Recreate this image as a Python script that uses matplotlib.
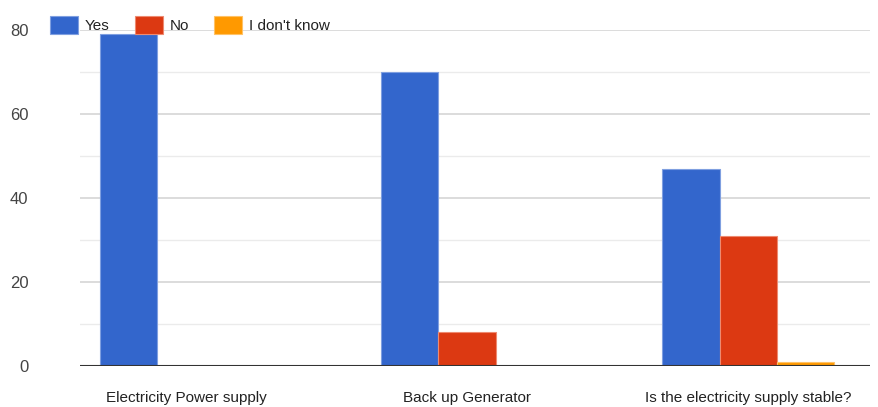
import numpy as np
import matplotlib.pyplot as plt
from matplotlib.ticker import MultipleLocator

categories = ["Electricity Power supply", "Back up Generator", "Is the electricity supply stable?"]
yes = [79, 70, 47]
no = [0, 8, 31]
dont_know = [0, 0, 1]
series_names = ["Yes", "No", "I don't know"]
colors = ["#3366cc", "#dc3912", "#ff9900"]
edges = ["#7f9fe0", "#ee8a70", "#ffc266"]

plt.rcParams['font.family'] = ['Liberation Sans', 'DejaVu Sans']

fig = plt.figure(figsize=(8.79, 4.07), dpi=100)
W, H = 879, 407
ax = fig.add_axes([80 / W, 41 / H, 790 / W, 336 / H])

x = np.arange(len(categories))
w = 0.203
for i, (vals, name) in enumerate(zip([yes, no, dont_know], series_names)):
    ax.bar(x + (i - 1) * w, vals, width=w, color=colors[i], edgecolor=edges[i],
           linewidth=0.8, label=name, zorder=3)

ax.set_xlim(-0.377, 2.434)
ax.set_ylim(0, 80)
ax.yaxis.set_major_locator(MultipleLocator(20))
ax.yaxis.set_minor_locator(MultipleLocator(10))
ax.grid(axis='y', which='major', color='#d6d6d6', linewidth=1.2, zorder=0)
ax.grid(axis='y', which='minor', color='#ebebeb', linewidth=1.0, zorder=0)
ax.axhline(0, color='#333333', linewidth=1.5, zorder=4)

for s in ax.spines.values():
    s.set_visible(False)
ax.tick_params(axis='both', which='both', length=0)
ax.tick_params(axis='y', pad=37, labelsize=12, labelcolor='#444444')
ax.tick_params(axis='x', pad=18, labelsize=11, labelcolor='#222222')
ax.set_xticks(x)
ax.set_xticklabels(categories)

fig.legend(loc='upper left', bbox_to_anchor=(44 / W, 1 - 10 / H), ncol=3, frameon=False,
           fontsize=11, handlelength=1.83, handleheight=1.4, handletextpad=0.46,
           columnspacing=1.63, borderaxespad=0, labelcolor='#222222')

fig.savefig("out.png", dpi=100)
